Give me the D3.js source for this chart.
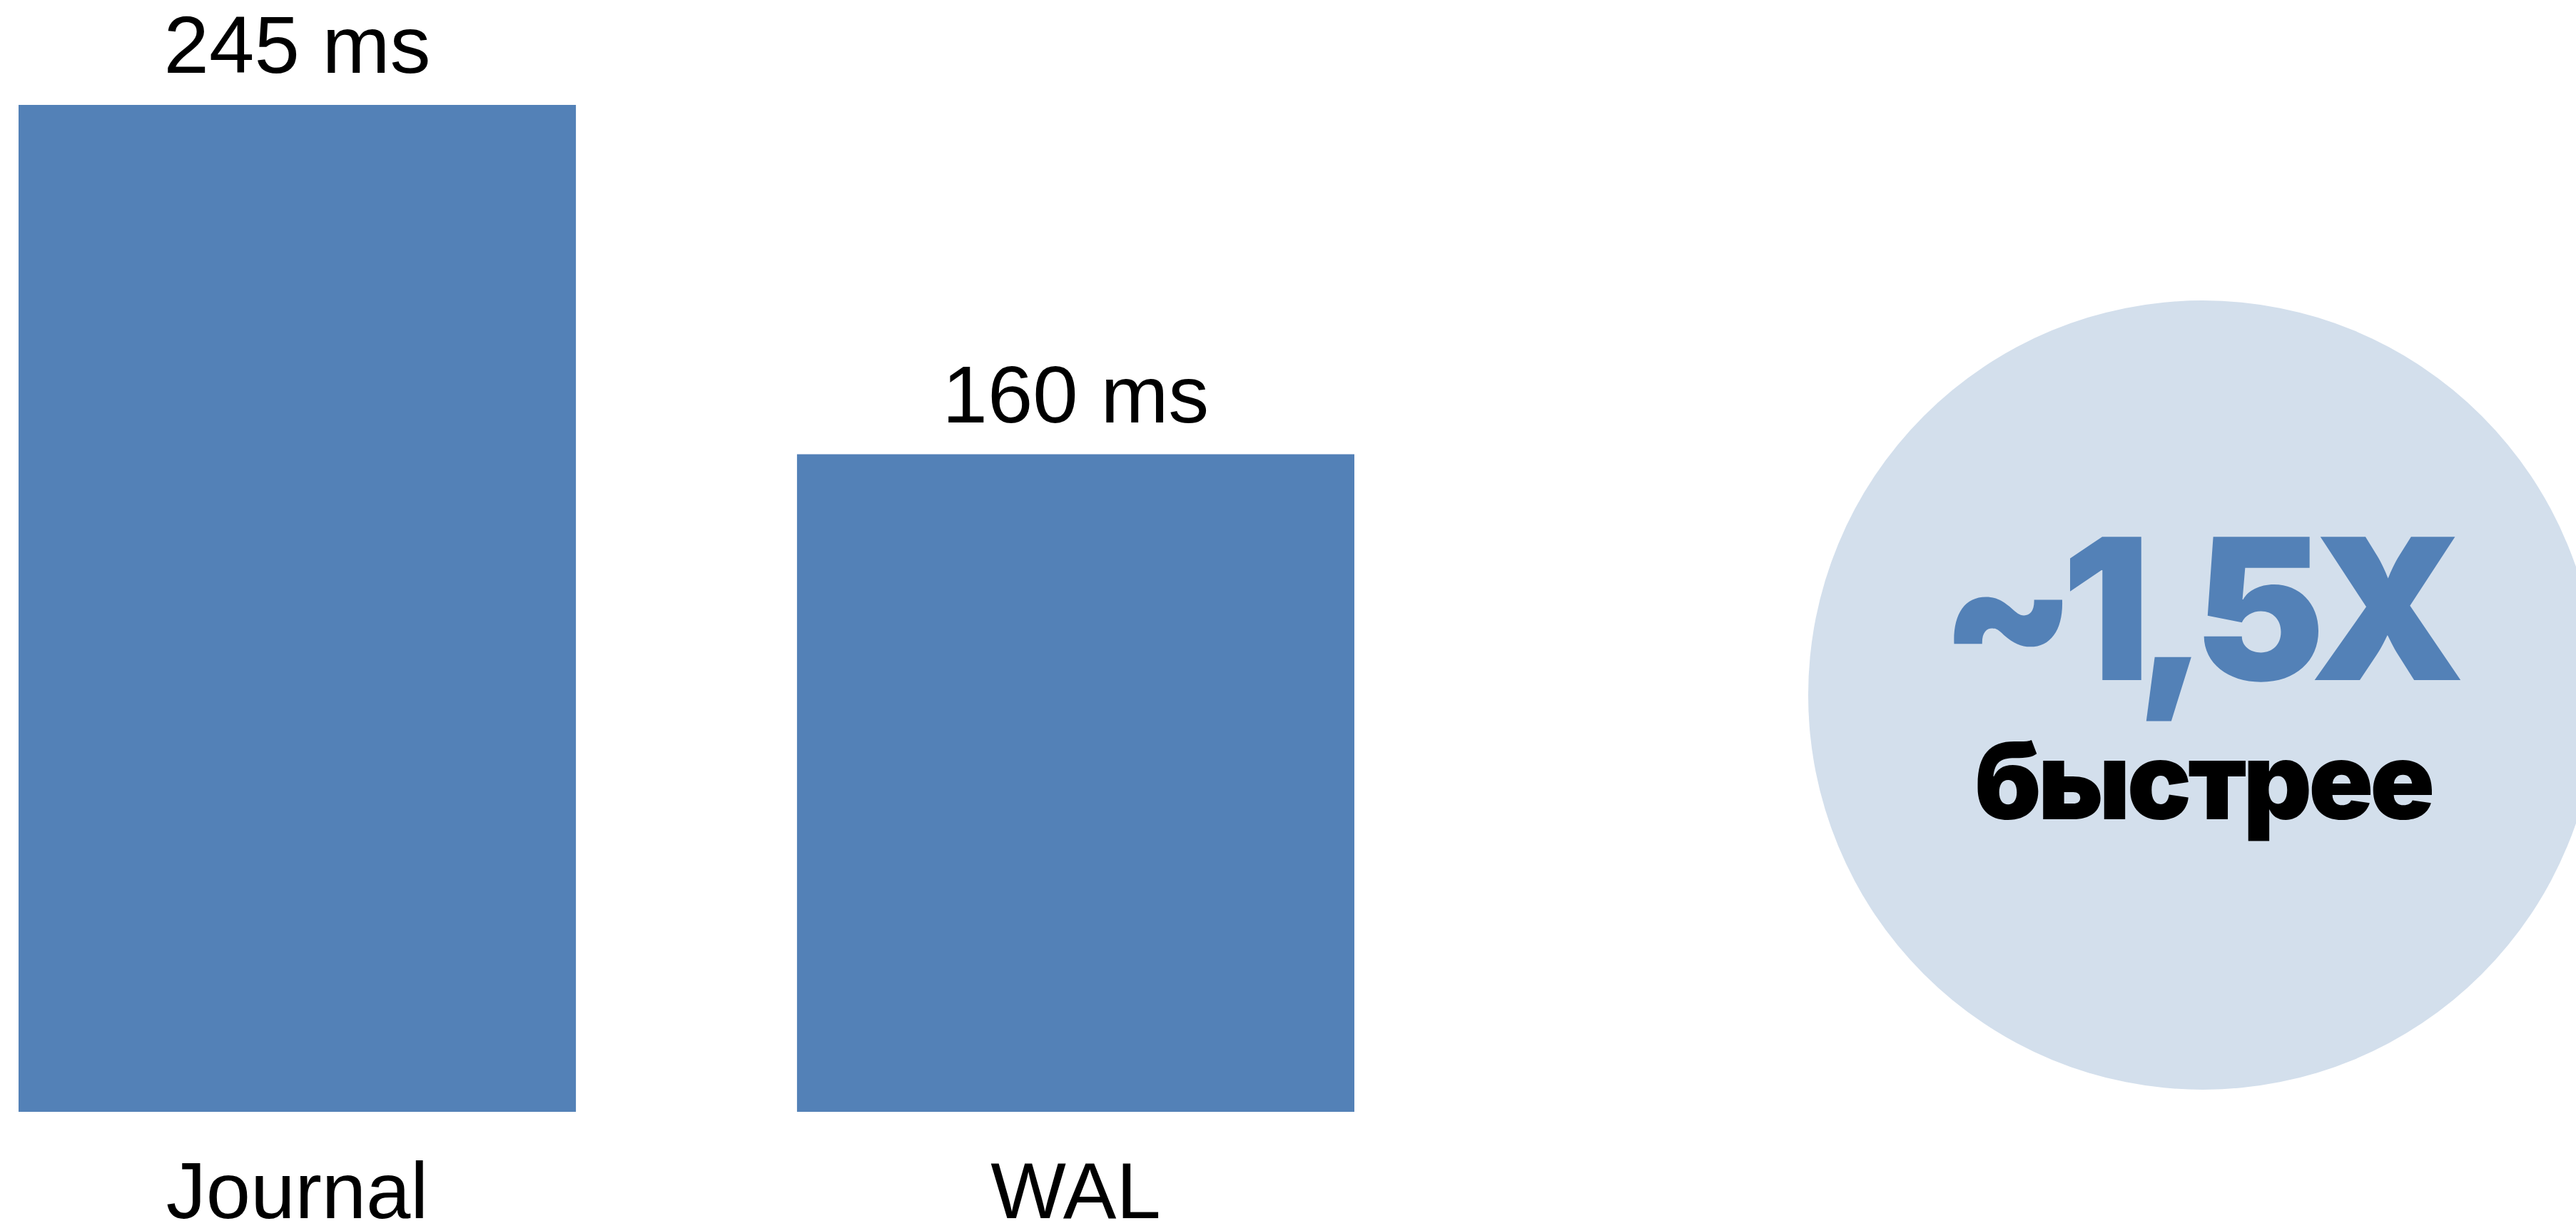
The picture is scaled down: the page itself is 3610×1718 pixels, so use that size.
<!DOCTYPE html>
<html>
<head>
<meta charset="utf-8">
<script src="https://cdn.jsdelivr.net/npm/d3@7"></script>
<style>
  html, body { margin: 0; padding: 0; background: #ffffff; }
  svg { display: block; }
</style>
</head>
<body>
<svg id="chart" width="3610" height="1718"></svg>
<script>
// Commit latency by logging mode
const categories = ["Journal", "WAL"];
const latencyMs = [245, 160];
const valueLabels = ["245 ms", "160 ms"];

// Speed-up badge
const badgeValue = "~1,5X";
const badgeCaption = "быстрее";

const svg = d3.select("#chart");

const barColor = "#5381b7";
const badgeColor = "#d3dfec";
const labelFont = "'Liberation Sans', Arial, sans-serif";
const heavyFont = "Inter, Lato, 'DejaVu Sans', sans-serif";

const x = d3.scaleBand()
  .domain(categories)
  .range([26, 1898])
  .paddingInner(0.284)
  .paddingOuter(0);

const y = d3.scaleLinear()
  .domain([0, d3.max(latencyMs)])
  .range([1558, 147]);

const data = categories.map((c, i) => ({ cat: c, v: latencyMs[i], label: valueLabels[i] }));

// Bars
svg.append("g")
  .selectAll("rect")
  .data(data)
  .join("rect")
  .attr("x", d => x(d.cat))
  .attr("y", d => y(d.v))
  .attr("width", x.bandwidth())
  .attr("height", d => y(0) - y(d.v))
  .attr("fill", barColor);

// Value labels above bars
svg.append("g")
  .selectAll("text")
  .data(data)
  .join("text")
  .attr("x", d => x(d.cat) + x.bandwidth() / 2)
  .attr("y", d => y(d.v) - 45)
  .attr("text-anchor", "middle")
  .attr("font-family", labelFont)
  .attr("font-size", 114)
  .attr("fill", "#000")
  .text(d => d.label);

// Category axis (labels only)
const xAxis = svg.append("g")
  .attr("transform", `translate(0, ${y(0)})`)
  .call(d3.axisBottom(x).tickSize(0).tickPadding(149));
xAxis.select(".domain").remove();
xAxis.selectAll("text")
  .attr("font-family", labelFont)
  .attr("font-size", 112)
  .attr("fill", "#000")
  .attr("dy", 0);

// Badge circle with ratio
const cx = 3087, cy = 974, r = 553;
svg.append("circle")
  .attr("cx", cx)
  .attr("cy", cy)
  .attr("r", r)
  .attr("fill", badgeColor);

svg.append("text")
  .attr("x", 3076)
  .attr("y", 953)
  .attr("text-anchor", "middle")
  .attr("font-family", heavyFont)
  .attr("font-weight", 900)
  .attr("font-size", 276)
  .attr("letter-spacing", -21)
  .attr("fill", barColor)
  .text(badgeValue);

svg.append("text")
  .attr("x", 3087)
  .attr("y", 1148)
  .attr("text-anchor", "middle")
  .attr("font-family", heavyFont)
  .attr("font-weight", 900)
  .attr("font-size", 150)
  .attr("letter-spacing", -5)
  .attr("fill", "#000")
  .text(badgeCaption);
</script>
</body>
</html>
